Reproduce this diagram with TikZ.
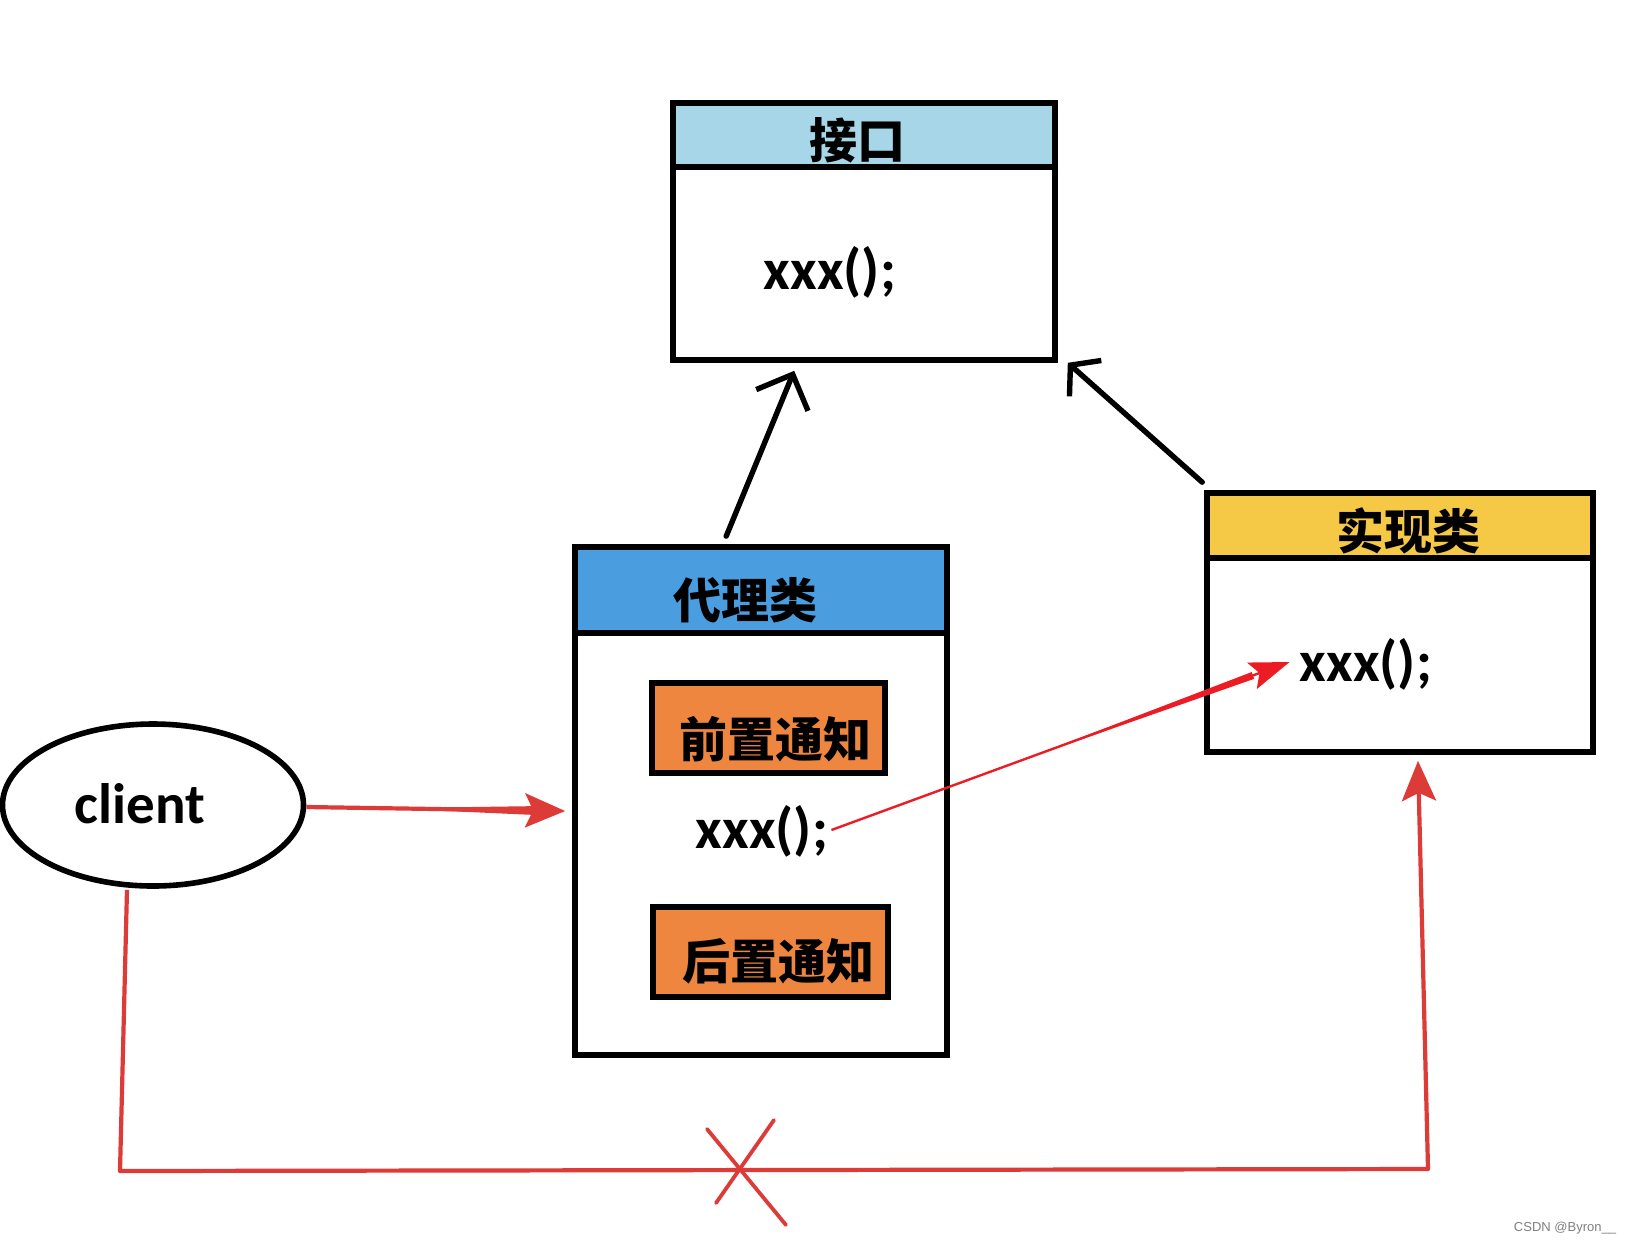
\documentclass[tikz,border=0pt]{standalone}
\usepackage{fontspec}
\newfontfamily\cjk{Noto Sans CJK SC}
\newfontfamily\lat{Carlito}
\newfontfamily\wmfont{Liberation Sans}
\usetikzlibrary{arrows.meta,shapes.geometric,calc}
\definecolor{ifaceblue}{HTML}{A6D6E8}
\definecolor{proxyblue}{HTML}{4A9EE0}
\definecolor{notifyorange}{HTML}{EE8640}
\definecolor{implyellow}{HTML}{F5C945}
\definecolor{redA}{HTML}{DD3B37}
\definecolor{redB}{HTML}{EC1C24}
\begin{document}
\begin{tikzpicture}[x=0.5pt,y=-0.5pt,
  box/.style={draw=black, line width=2.8pt, rectangle, inner sep=0pt},
  cn/.style={font=\cjk\bfseries\fontsize{24}{24}\selectfont, inner sep=0pt},
  code/.style={font=\lat\bfseries\fontsize{29}{29}\selectfont, inner sep=0pt},
  barb/.style={line width=2.7pt, line cap=round, line join=round,
    -{Straight Barb[length=14pt,width=28pt,line width=2.7pt]}},
  smallbarb/.style={line width=2.7pt, line cap=round, line join=round,
    -{Straight Barb[length=10pt,width=24pt,line width=2.7pt]}},
  redarrow/.style={draw=redA, line width=2.1pt, -{Stealth[length=20pt,width=17pt,inset=4pt]}},
  redthin/.style={draw=redB, line width=1.2pt, -{Stealth[length=20pt,width=14pt,inset=4pt]}},
  crossline/.style={draw=redA, line width=1.9pt, line cap=round}]
\useasboundingbox[fill=white] (0,0) rectangle (1626,1244);

% interface
\node[box, fill=ifaceblue, minimum width=191pt, minimum height=32pt] (ifacehead) at (864,135) {};
\node[box, fill=white, minimum width=191pt, minimum height=96.5pt] (ifacebody) at (864,263.5) {};
\node[cn] (ifacetitle) at (857,140) {接口};
\node[code] (ifacexxx) at (830,272) {xxx();};

% proxy
\node[box, fill=proxyblue, minimum width=186pt, minimum height=43pt] (proxyhead) at (761,590) {};
\node[box, fill=white, minimum width=186pt, minimum height=211pt] (proxybody) at (761,844) {};
\node[cn] (proxytitle) at (745,600) {代理类};
\node[box, fill=notifyorange, minimum width=116.5pt, minimum height=45pt] (before) at (768.5,728) {};
\node[cn] (beforet) at (775,739) {前置通知};
\node[code] (proxyxxx) at (762,831) {xxx();};
\node[box, fill=notifyorange, minimum width=117.5pt, minimum height=45pt] (after) at (770.5,952) {};
\node[cn] (aftert) at (778,961) {后置通知};

% implementation
\node[box, fill=implyellow, minimum width=193pt, minimum height=32.5pt] (implhead) at (1400,525.5) {};
\node[box, fill=white, minimum width=193pt, minimum height=97pt] (implbody) at (1400,655) {};
\node[cn] (impltitle) at (1408,531) {实现类};
\node[code] (implxxx) at (1366,664) {xxx();};

% client
\node[draw=black, line width=2.8pt, ellipse, minimum width=150.5pt, minimum height=81pt, inner sep=0pt] (client) at (153,805) {};
\node[font=\lat\bfseries\fontsize{28.5}{28.5}\selectfont, inner sep=0pt] (clientt) at (140,804) {client};

% black arrows
\coordinate (pa) at ($(proxyhead.north west)+(154,-8)$);
\coordinate (pb) at ($(ifacebody.south west)+(124,8)$);
\draw[barb] (pa) -- (pb);
\coordinate (ia) at ($(implhead.north west)+(-2,-8)$);
\coordinate (ib) at ($(ifacebody.south east)+(10,0)$);
\draw[smallbarb] (ia) -- (ib);

% client -> proxy
\coordinate (ca) at ($(client.east)+(0,2)$);
\coordinate (cb) at ($(proxybody.west)+(-7,-33)$);
\coordinate (cm) at ($(ca)!0.3!(cb)$);
\coordinate (ce) at ($(ca)!0.88!(cb)$);
\fill[redA] (cm) -- ($(ce)!2.2pt!90:(cm)$) -- ($(ce)!2.2pt!-90:(cm)$) -- cycle;
\draw[redarrow] (ca) -- (cb);

% proxy xxx -> impl xxx
\coordinate (xa) at ($(proxyxxx.east)+(3,-1)$);
\coordinate (xb) at ($(implxxx.west)+(-10,-2)$);
\coordinate (xm) at ($(xa)!0.4!(xb)$);
\coordinate (xe) at ($(xa)!0.92!(xb)$);
\fill[redB] (xm) -- ($(xe)!1.8pt!90:(xm)$) -- ($(xe)!1.8pt!-90:(xm)$) -- cycle;
\draw[redthin] (xa) -- (xb);

% forbidden direct path
\coordinate (da) at ($(client.south)+(-26,1)$);
\coordinate (d1) at (120,1171);
\coordinate (d2) at (1428,1169);
\coordinate (db) at ($(implbody.south)+(18,6)$);
\draw[redarrow, line join=round] (da) -- (d1) -- (d2) -- (db);
\coordinate (x1a) at (707,1129);
\coordinate (x1b) at (786,1225);
\coordinate (x2a) at (774,1120);
\coordinate (x2b) at (716,1203);
\draw[crossline] (x1a) -- (x1b);
\draw[crossline] (x2a) -- (x2b);

% watermark
\node[font=\wmfont\fontsize{6.5}{6.5}\selectfont, text=gray, inner sep=0pt] (wm) at (1565,1228) {CSDN @Byron\_\_};
\end{tikzpicture}
\end{document}
